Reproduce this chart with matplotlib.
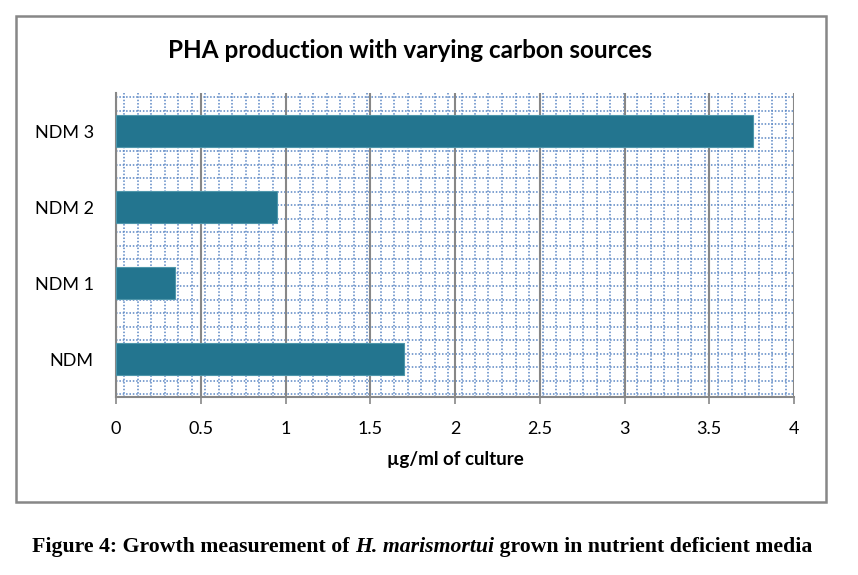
import matplotlib
matplotlib.use("Agg")
import matplotlib.pyplot as plt
from matplotlib.patches import Rectangle

# data
categories = ["NDM", "NDM 1", "NDM 2", "NDM 3"]
values = [1.70, 0.35, 0.95, 3.76]
x_ticks = [0, 0.5, 1, 1.5, 2, 2.5, 3, 3.5, 4]
x_tick_labels = ["0", "0.5", "1", "1.5", "2", "2.5", "3", "3.5", "4"]

TITLE = "PHA production with varying carbon sources"
XLABEL = "\u00b5g/ml of culture"

W, H, DPI = 858, 575, 100
BAR = "#23758f"
GRID = "#878787"
DOTS = "#5a86c4"
FONT = "Lato"

fig = plt.figure(figsize=(W / DPI, H / DPI), dpi=DPI)

# plot area in pixels: left 116, right 794, top 93, bottom 397
ax_l, ax_r, ax_t, ax_b = 116, 794, 93, 397
ax = fig.add_axes([ax_l / W, 1 - ax_b / H, (ax_r - ax_l) / W, (ax_b - ax_t) / H])

# Excel "dotted grid" pattern fill of the plot area (fixed pixel pitch)
pw, ph = ax_r - ax_l, ax_b - ax_t
pitch = 13.5
px = 8.0
while px < pw:
    ax.plot([px / pw, px / pw], [0, 1], transform=ax.transAxes, color=DOTS,
            lw=1.1, ls=(0, (1, 1.2)), zorder=0.2)
    px += pitch
py = 4.0
while py < ph:
    ax.plot([0, 1], [1 - py / ph, 1 - py / ph], transform=ax.transAxes,
            color=DOTS, lw=1.1, ls=(0, (1, 1.2)), zorder=0.2)
    py += pitch

ax.barh(range(len(categories)), values, height=0.41, color=BAR,
        edgecolor="#4f97ab", linewidth=0.8, zorder=3)

ax.set_xlim(0, 4)
ax.set_ylim(-0.5, len(categories) - 0.5)
ax.set_xticks(x_ticks)
ax.set_xticklabels(x_tick_labels, fontsize=13, family=FONT)
ax.set_yticks(range(len(categories)))
ax.set_yticklabels(categories, fontsize=13, family=FONT)

ax.set_axisbelow(True)
ax.grid(axis="x", color=GRID, lw=1.5, zorder=1)
ax.grid(axis="y", visible=False)
for s in ("top", "right"):
    ax.spines[s].set_visible(False)
for s in ("left", "bottom"):
    ax.spines[s].set_color(GRID)
    ax.spines[s].set_linewidth(1.5)
ax.tick_params(axis="x", direction="out", length=5, width=1.2, color=GRID,
               pad=12)
ax.tick_params(axis="y", length=0, pad=16)

ax.set_xlabel(XLABEL, fontsize=13.5, fontweight="bold", family=FONT,
              labelpad=10)
fig.text(410 / W, 1 - 50 / H, TITLE, ha="center",
         va="center", fontsize=17.5, fontweight="bold", family=FONT)

# chart border
fig.patches.append(Rectangle((16 / W, 1 - 502 / H), (826 - 16) / W,
                             (502 - 16) / H, transform=fig.transFigure,
                             fill=False, edgecolor=GRID, lw=1.8))

# caption with italic species name, laid out piece by piece
pieces = [("Figure 4: Growth measurement of ", "normal"),
          ("H. marismortui", "italic"),
          (" grown in nutrient deficient media", "normal")]
renderer = fig.canvas.get_renderer()
texts = []
x = 0.0
for s, style in pieces:
    t = fig.text(x, 1 - 547 / H, s, ha="left", va="center", fontsize=15.7,
                 fontweight="bold", style=style, family="Liberation Serif")
    texts.append(t)
    x += t.get_window_extent(renderer=renderer).width / W
cur = (32 + (812 - 32) / 2) / W - x / 2
for t in texts:
    t.set_x(cur)
    cur += t.get_window_extent(renderer=renderer).width / W

fig.savefig("out.png", dpi=DPI)
